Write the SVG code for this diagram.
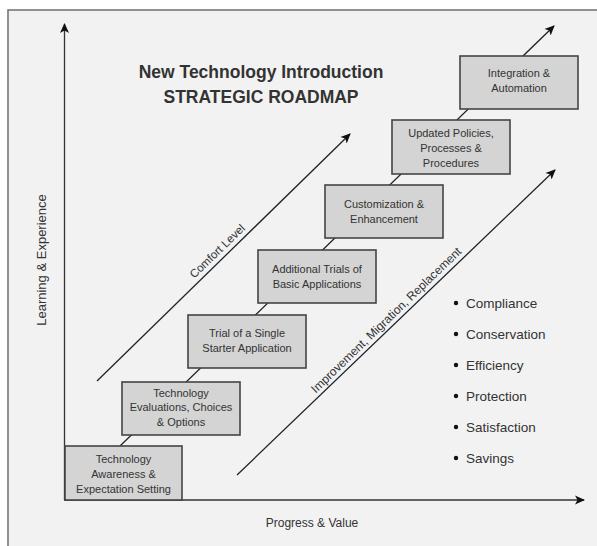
<svg xmlns="http://www.w3.org/2000/svg" width="597" height="546" viewBox="0 0 597 546">
<defs>
<marker id="ah" viewBox="0 0 10 10" refX="9" refY="5" markerWidth="10" markerHeight="10" markerUnits="userSpaceOnUse" orient="auto">
<path d="M0,0.5 L10,5 L0,9.5 L2.5,5 Z" fill="#111"/>
</marker>
<style>
.t{font-family:"Liberation Sans",Arial,sans-serif;fill:#333;}
.bx{fill:#d4d4d4;stroke:#444;stroke-width:1.6;}
.bt{font-size:11px;text-anchor:middle;}
.ln{stroke:#222;stroke-width:1.3;fill:none;}
.ax{stroke:#333;stroke-width:1.3;fill:none;}
.bl{font-size:13.5px;}
</style>
</defs>
<rect x="0" y="0" width="597" height="546" fill="#ffffff"/>
<rect x="8" y="10" width="620" height="600" fill="#f2f2f2" stroke="#777" stroke-width="1.6"/>

<g id="title">
<text class="t" x="261" y="78" font-size="17.5" font-weight="bold" text-anchor="middle">New Technology Introduction</text>
<text class="t" x="261" y="103" font-size="17.5" font-weight="bold" text-anchor="middle">STRATEGIC ROADMAP</text>
</g>

<g id="connectors">
<line class="ax" x1="64.5" y1="500" x2="64.5" y2="24" marker-end="url(#ah)"/>
<line class="ax" x1="64" y1="500" x2="584" y2="500" marker-end="url(#ah)"/>
<line class="ln" x1="120" y1="446" x2="554" y2="26" marker-end="url(#ah)"/>
<line class="ln" x1="97" y1="381" x2="350" y2="134" marker-end="url(#ah)"/>
<line class="ln" x1="237" y1="475" x2="555" y2="170" marker-end="url(#ah)"/>
</g>

<g id="axis-labels">
<text class="t" x="0" y="0" font-size="13" text-anchor="middle" transform="translate(46,260) rotate(-90)">Learning &amp; Experience</text>
<text class="t" x="312" y="527" font-size="12" text-anchor="middle">Progress &amp; Value</text>
</g>

<g id="line-labels">
<text class="t" x="0" y="0" font-size="11.5" text-anchor="middle" transform="translate(220,254) rotate(-44)">Comfort Level</text>
<text class="t" x="0" y="0" font-size="12" text-anchor="middle" transform="translate(389,323) rotate(-44)">Improvement, Migration, Replacement</text>
</g>

<g id="box1">
<rect class="bx" x="65" y="446" width="117" height="54"/>
<text class="t bt" x="123.5" y="463">Technology</text>
<text class="t bt" x="123.5" y="478">Awareness &amp;</text>
<text class="t bt" x="123.5" y="493">Expectation Setting</text>
</g>
<g id="box2">
<rect class="bx" x="122" y="382" width="118" height="53"/>
<text class="t bt" x="181" y="397">Technology</text>
<text class="t bt" x="181" y="411">Evaluations, Choices</text>
<text class="t bt" x="181" y="426">&amp; Options</text>
</g>
<g id="box3">
<rect class="bx" x="188" y="315" width="118" height="53"/>
<text class="t bt" x="247" y="337">Trial of a Single</text>
<text class="t bt" x="247" y="352">Starter Application</text>
</g>
<g id="box4">
<rect class="bx" x="258" y="250" width="118" height="53"/>
<text class="t bt" x="317" y="273">Additional Trials of</text>
<text class="t bt" x="317" y="288">Basic Applications</text>
</g>
<g id="box5">
<rect class="bx" x="325" y="185" width="118" height="53"/>
<text class="t bt" x="384" y="208">Customization &amp;</text>
<text class="t bt" x="384" y="223">Enhancement</text>
</g>
<g id="box6">
<rect class="bx" x="392" y="120" width="118" height="54"/>
<text class="t bt" x="451" y="137">Updated Policies,</text>
<text class="t bt" x="451" y="152">Processes &amp;</text>
<text class="t bt" x="451" y="167">Procedures</text>
</g>
<g id="box7">
<rect class="bx" x="460" y="56" width="118" height="53"/>
<text class="t bt" x="519" y="77">Integration &amp;</text>
<text class="t bt" x="519" y="92">Automation</text>
</g>

<g id="bullets">
<circle cx="456" cy="303" r="2.2" fill="#111"/>
<text class="t bl" x="466" y="308">Compliance</text>
<circle cx="456" cy="334" r="2.2" fill="#111"/>
<text class="t bl" x="466" y="339">Conservation</text>
<circle cx="456" cy="365" r="2.2" fill="#111"/>
<text class="t bl" x="466" y="370">Efficiency</text>
<circle cx="456" cy="396" r="2.2" fill="#111"/>
<text class="t bl" x="466" y="401">Protection</text>
<circle cx="456" cy="427" r="2.2" fill="#111"/>
<text class="t bl" x="466" y="432">Satisfaction</text>
<circle cx="456" cy="458" r="2.2" fill="#111"/>
<text class="t bl" x="466" y="463">Savings</text>
</g>
</svg>
